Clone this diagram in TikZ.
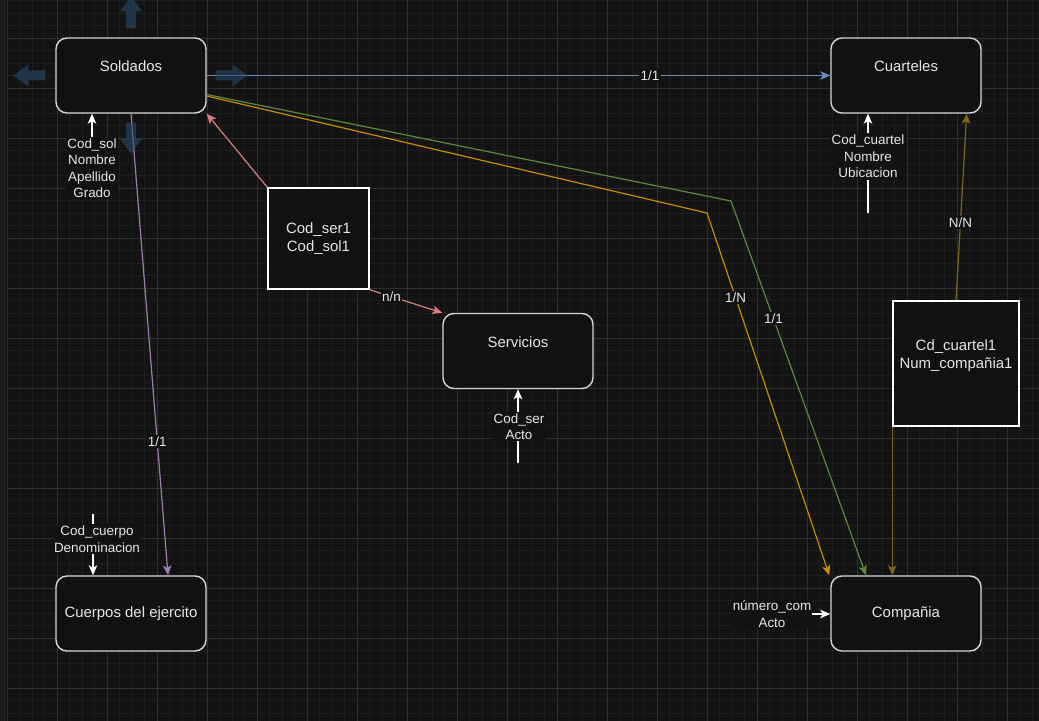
\documentclass[tikz,border=0pt]{standalone}
\usepackage{fontspec}
\setmainfont{Liberation Sans}
\usetikzlibrary{arrows.meta}

\definecolor{pagebg}{HTML}{131313}
\definecolor{stripbg}{HTML}{1C1C1C}
\definecolor{gridminor}{HTML}{1E1E1E}
\definecolor{gridmajor}{HTML}{2E2E2E}
\definecolor{boxfill}{HTML}{111111}
\definecolor{boxline}{HTML}{D6D6D6}
\definecolor{lblbg}{HTML}{121212}
\definecolor{txt}{HTML}{E6E6E6}
\definecolor{cblue}{HTML}{6C8EBF}
\definecolor{corange}{HTML}{C98C00}
\definecolor{cgreen}{HTML}{5A8A38}
\definecolor{cpink}{HTML}{D7807D}
\definecolor{cpurple}{HTML}{9D7BB3}
\definecolor{cbrown}{HTML}{80641A}
\definecolor{ghostc}{HTML}{274A6A}

\begin{document}
\begin{tikzpicture}[x=1bp,y=-1bp,
  ent/.style={draw=boxline, line width=1.4bp, fill=boxfill, rounded corners=11bp,
    minimum width=150bp, minimum height=75bp, inner sep=0pt, align=center,
    text=txt, font=\fontsize{15}{18}\selectfont},
  relbox/.style={draw=white, line width=1.4bp, fill=boxfill, inner sep=0pt,
    align=center, text=txt, font=\fontsize{15}{18}\selectfont},
  attr/.style={fill=lblbg, inner sep=1.5bp, align=center, text=txt,
    font=\fontsize{13.5}{16.5}\selectfont},
  elbl/.style={fill=lblbg, inner sep=1.5bp, text=txt,
    font=\fontsize{13.5}{16}\selectfont},
  tip/.style={-{Stealth[length=10bp,width=8.5bp,inset=2.5bp]}},
  conn/.style={line width=1.2bp, line join=round},
  attrln/.style={draw=white, line width=1.4bp},
  ghost/.style={fill=ghostc, fill opacity=0.6, draw=none}
]
% canvas and grid
\fill[pagebg] (0,0) rectangle (1039,721);
\useasboundingbox (0,0) rectangle (1039,721);
\fill[stripbg] (0,0) rectangle (6,721);
\foreach \i in {0,...,82} {
  \pgfmathsetmacro\gx{7+12.5*\i}
  \draw[gridminor, line width=0.8bp] (\gx,0) -- (\gx,721);
}
\foreach \j in {0,...,57} {
  \pgfmathsetmacro\gy{0.5+12.5*\j}
  \draw[gridminor, line width=0.8bp] (7,\gy) -- (1039,\gy);
}
\foreach \k in {0,...,20} {
  \pgfmathsetmacro\gx{7+50*\k}
  \draw[gridmajor, line width=0.9bp] (\gx,0) -- (\gx,721);
}
\foreach \k in {0,...,13} {
  \pgfmathsetmacro\gy{38+50*\k}
  \draw[gridmajor, line width=0.9bp] (7,\gy) -- (1039,\gy);
}

% entities
\node[ent] (sol)   at (131,75.5)  {Soldados\\\mbox{}};
\node[ent] (cuart) at (906,75.5)  {Cuarteles\\\mbox{}};
\node[ent] (serv)  at (518,351)   {Servicios\\\mbox{}};
\node[ent] (comp)  at (906,613.5) {Compañia};
\node[ent] (cuer)  at (131,613.5) {Cuerpos del ejercito};

% relation boxes
\node[relbox, minimum width=101bp, minimum height=101bp] (ser1) at (318.5,238.5) {Cod\_ser1\\Cod\_sol1};
\node[relbox, minimum width=126bp, minimum height=125bp] (cdq) at (956,363.5) {Cd\_cuartel1\\Num\_compañia1\\\mbox{}};

% relationships
\coordinate (obend) at (707,213);
\coordinate (gbend) at (731,201);
\draw[conn, draw=cblue, tip] (sol.east) -- node[elbl, pos=0.711] {1/1} (cuart.west);
\draw[conn, draw=cgreen, tip] ([yshift=-19bp]sol.east) -- (gbend)
  -- node[elbl, pos=0.315] {1/1} ([xshift=-40bp]comp.north);
\draw[conn, draw=corange, tip] ([yshift=-20.5bp]sol.east) -- (obend)
  -- node[elbl, pos=0.234] {1/N} ([xshift=-1bp]comp.north west);
\draw[conn, draw=cpurple, tip] (sol.south) -- node[elbl, pos=0.71] {1/1} ([xshift=37bp]cuer.north);
\draw[conn, draw=cpink, tip] (ser1.north west) -- (sol.south east);
\draw[conn, draw=cpink, tip] (ser1.south east) -- node[elbl, pos=0.3] {n/n} (serv.north west);
\draw[conn, draw=cbrown, tip] (cdq.north) -- node[elbl, pos=0.415] {N/N} ([xshift=-15bp]cuart.south east);
\draw[conn, draw=cbrown, tip] (cdq.south west) -- (cdq.south west |- comp.north);

% attributes
\node[attr] (solattr) at (92,168) {Cod\_sol\\Nombre\\Apellido\\Grado};
\draw[attrln, tip] (solattr.north) -- (solattr.north |- sol.south);

\coordinate (cq0) at (868,213);
\node[attr] (cuartattr) at (868,156.5) {Cod\_cuartel\\Nombre\\Ubicacion};
\draw[attrln] (cq0) -- (cuartattr.south);
\draw[attrln, tip] (cuartattr.north) -- (cuartattr.north |- cuart.south);

\coordinate (sv0) at (518,463);
\node[attr] (servattr) at (519,426.5) {Cod\_ser\\Acto};
\draw[attrln] (sv0) -- (sv0 |- servattr.south);
\draw[attrln, tip] (sv0 |- servattr.north) -- (sv0 |- serv.south);

\coordinate (cu0) at (93,514);
\node[attr] (cuerattr) at (97,539) {Cod\_cuerpo\\Denominacion};
\draw[attrln] (cu0) -- (cu0 |- cuerattr.north);
\draw[attrln, tip] (cu0 |- cuerattr.south) -- (cu0 |- cuer.north);

\coordinate (cp0) at (812,614);
\node[attr] (compattr) at (772,614) {número\_com\\Acto};
\draw[attrln, tip] (cp0) -- (cp0 -| comp.west);

% hover handles around Soldados
\begin{scope}[shift={(sol.east)}]
  \fill[ghost] (9,-5) -- (26,-5) -- (26,-11) -- (41,0) -- (26,11) -- (26,5) -- (9,5) -- cycle;
\end{scope}
\begin{scope}[shift={(sol.west)}]
  \fill[ghost] (-10,-5) -- (-27,-5) -- (-27,-11) -- (-42,0) -- (-27,11) -- (-27,5) -- (-10,5) -- cycle;
\end{scope}
\begin{scope}[shift={(sol.north)}]
  \fill[ghost] (-5,-9) -- (-5,-26) -- (-11,-26) -- (0,-41) -- (11,-26) -- (5,-26) -- (5,-9) -- cycle;
\end{scope}
\begin{scope}[shift={(sol.south)}]
  \fill[ghost] (-5,9) -- (-5,25) -- (-11,25) -- (0,40) -- (11,25) -- (5,25) -- (5,9) -- cycle;
\end{scope}
\end{tikzpicture}
\end{document}
